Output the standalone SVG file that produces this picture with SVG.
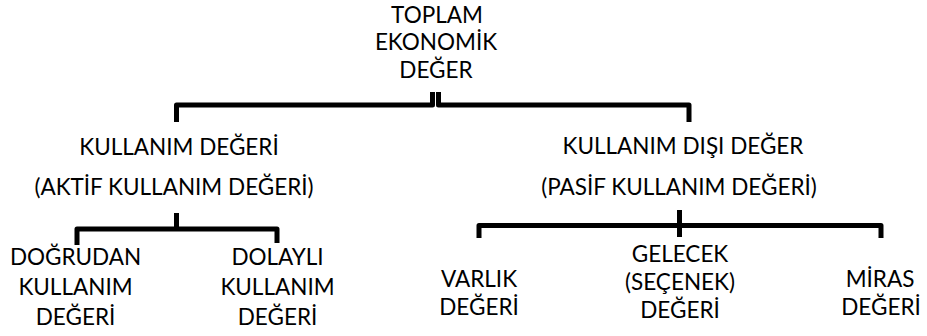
<svg xmlns="http://www.w3.org/2000/svg" width="927" height="336" viewBox="0 0 927 336">
  <style>
    .lbl { font-family: Lato, "Open Sans", "Liberation Sans", sans-serif; font-size: 22.5px; fill: #000; text-anchor: middle; }
    .link { fill: none; stroke: #000; stroke-width: 5; stroke-linejoin: round; stroke-linecap: butt; }
  </style>
  <rect width="927" height="336" fill="#fff"/>

  <g id="connectors">
    <!-- root brace -->
    <path class="link" d="M176.5,122 V105 H432.5 V92"/>
    <path class="link" d="M438.5,92 V105 H689 V122"/>
    <!-- use-value brace -->
    <path class="link" d="M176.5,213 V229"/>
    <path class="link" d="M77,245 V229 H277 V243"/>
    <!-- non-use-value brace -->
    <path class="link" d="M679.5,210 V237"/>
    <path class="link" d="M479,238 V225.5 H881 V238"/>
  </g>

  <g id="total-economic-value">
    <text class="lbl" x="437" y="22.5">TOPLAM</text>
    <text class="lbl" x="436" y="50">EKONOMİK</text>
    <text class="lbl" x="436" y="78">DEĞER</text>
  </g>

  <g id="use-value">
    <text class="lbl" x="179" y="155">KULLANIM DEĞERİ</text>
    <text class="lbl" x="174" y="195">(AKTİF KULLANIM DEĞERİ)</text>
  </g>

  <g id="non-use-value">
    <text class="lbl" x="683" y="154">KULLANIM DIŞI DEĞER</text>
    <text class="lbl" x="679" y="195">(PASİF KULLANIM DEĞERİ)</text>
  </g>

  <g id="direct-use-value">
    <text class="lbl" x="75.5" y="265">DOĞRUDAN</text>
    <text class="lbl" x="75.5" y="295">KULLANIM</text>
    <text class="lbl" x="75.5" y="325">DEĞERİ</text>
  </g>

  <g id="indirect-use-value">
    <text class="lbl" x="277.5" y="265">DOLAYLI</text>
    <text class="lbl" x="277.5" y="295">KULLANIM</text>
    <text class="lbl" x="277.5" y="325">DEĞERİ</text>
  </g>

  <g id="existence-value">
    <text class="lbl" x="479" y="287">VARLIK</text>
    <text class="lbl" x="479" y="315">DEĞERİ</text>
  </g>

  <g id="option-value">
    <text class="lbl" x="680" y="262">GELECEK</text>
    <text class="lbl" x="680" y="290">(SEÇENEK)</text>
    <text class="lbl" x="680" y="318">DEĞERİ</text>
  </g>

  <g id="bequest-value">
    <text class="lbl" x="880" y="287">MİRAS</text>
    <text class="lbl" x="881" y="315">DEĞERİ</text>
  </g>
</svg>
